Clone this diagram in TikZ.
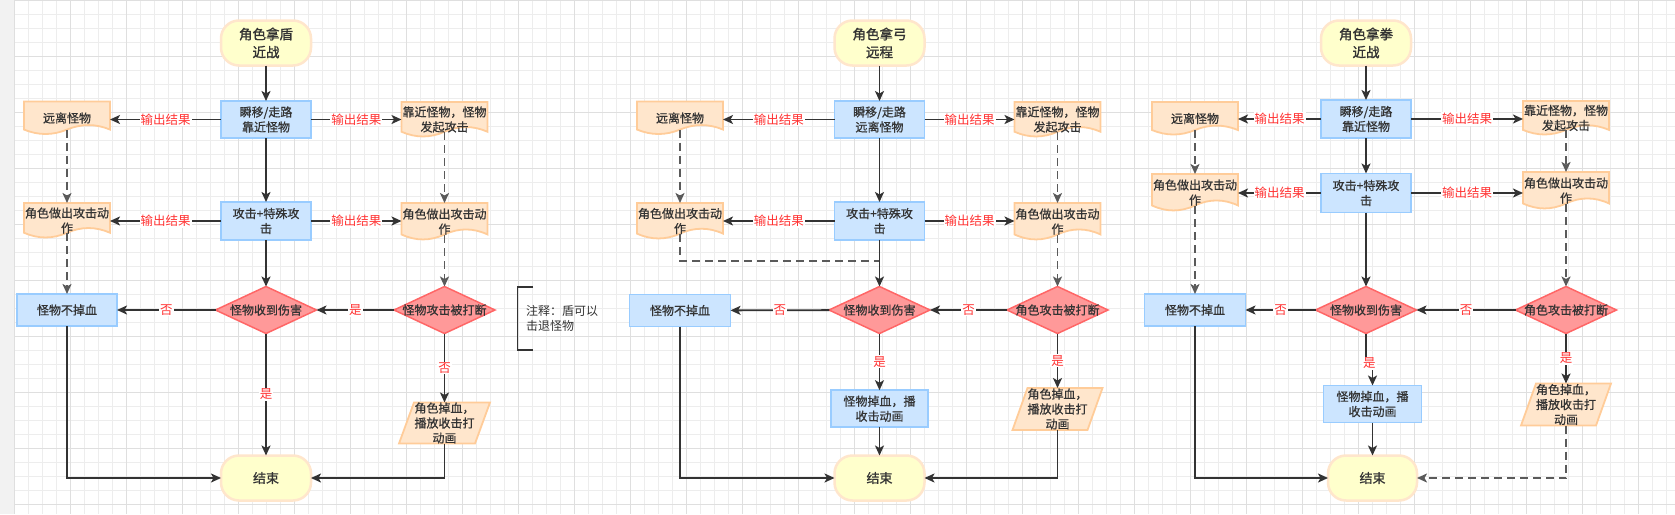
\documentclass[tikz,border=0pt]{standalone}
\usepackage{fontspec}
\setmainfont[AutoFakeBold=1.5]{Noto Sans CJK SC}
\newfontfamily\medfont[FakeBold=0.7]{Noto Sans CJK SC}
\usetikzlibrary{shapes.geometric,arrows.meta,calc}
\pgfdeclarelayer{grid}
\pgfdeclarelayer{shapes}
\pgfsetlayers{grid,shapes,main}
\definecolor{txt}{HTML}{333333}
\definecolor{termfill}{HTML}{FFFFCC}
\definecolor{termdraw}{HTML}{FFE6CC}
\definecolor{procfill}{HTML}{CCE5FF}
\definecolor{procdraw}{HTML}{99CCFF}
\definecolor{docfill}{HTML}{FFE6CC}
\definecolor{docdraw}{HTML}{FFCC99}
\definecolor{decfill}{HTML}{FF9999}
\definecolor{decdraw}{HTML}{FF6666}
\definecolor{linec}{HTML}{333333}
\definecolor{dashc}{HTML}{5A5A5A}
\definecolor{labc}{HTML}{FF3333}
\definecolor{gridminor}{HTML}{EDEDED}
\definecolor{gridmajor}{HTML}{DFDFDF}
\definecolor{stripc}{HTML}{F2F2F2}
\newcommand\docoutline[1]{%
  \begin{pgfonlayer}{shapes}
  \path[docline] let \p1=(#1.north west), \p2=(#1.south east),
    \n1={\x2-\x1}, \n2={0.3*(\y1-\y2)} in
    (\x1,\y1) -- (\x2,\y1) -- (\x2,\y2+0.5*\n2)
    .. controls (\x2-\n1/6,\y2+1.1*\n2) and (\x1+2*\n1/3,\y2+1.1*\n2) .. (\x1+0.5*\n1,\y2+0.5*\n2)
    .. controls (\x1+\n1/3,\y2-0.1*\n2) and (\x1+\n1/6,\y2-0.1*\n2) .. (\x1,\y2+0.5*\n2) -- cycle;
  \end{pgfonlayer}}
\newcommand\paraoutline[1]{%
  \begin{pgfonlayer}{shapes}
  \path[docline] let \p1=(#1.north west), \p2=(#1.south east) in
    (\x1+15pt,\y1) -- (\x2,\y1) -- (\x2-15pt,\y2) -- (\x1,\y2) -- cycle;
  \end{pgfonlayer}}
\begin{document}
\begin{tikzpicture}[x=1pt,y=-1pt,
  base/.style={inner sep=0pt, outer sep=0pt, align=center, text=txt, font=\medfont\fontsize{12}{15}\selectfont},
  term/.style={base, rectangle, rounded corners=18pt, fill=termfill, draw=termdraw, line width=2.5pt, minimum width=90pt, minimum height=45pt},
  startbox/.style={term, font=\fontsize{13.5}{18}\selectfont\bfseries},
  endbox/.style={term, font=\medfont\fontsize{13}{16}\selectfont},
  proc/.style={base, rectangle, fill=procfill, draw=procdraw, line width=1.8pt, minimum width=90pt, minimum height=37pt},
  docnode/.style={base, rectangle, minimum width=86pt},
  docline/.style={fill=docfill, draw=docdraw, line width=1.8pt},
  dec/.style={base, diamond, fill=decfill, draw=decdraw, line width=1.5pt, minimum width=101pt, minimum height=47pt},
  paranode/.style={base, rectangle, minimum width=91pt, minimum height=41pt},
  conn/.style={draw=linec, line width=1.8pt, -{Stealth[length=10pt,width=9pt,inset=2.5pt]}},
  dconn/.style={conn, draw=dashc, dash pattern=on 8pt off 5pt},
  dline/.style={draw=dashc, line width=1.8pt, dash pattern=on 8pt off 5pt},
  lab/.style={fill=white, text=labc, inner sep=1pt, font=\fontsize{12.5}{14}\selectfont},
  notetext/.style={inner sep=0pt, align=left, text=txt, font=\fontsize{12}{15}\selectfont},
]
\useasboundingbox (0,0) rectangle (1675,514);
% ---------- background grid ----------
\begin{pgfonlayer}{grid}
\fill[white] (0,0) rectangle (1675,514);
\fill[stripc] (0,0) rectangle (14.3,514);
\foreach \i in {0,...,118} \draw[gridminor, line width=1pt] ({14.3+14*\i},0) -- ({14.3+14*\i},514);
\foreach \j in {0,...,36} \draw[gridminor, line width=1pt] (14.3,{0.3+14*\j}) -- (1675,{0.3+14*\j});
\foreach \i in {0,...,29} \draw[gridmajor, line width=1pt] ({14.3+56*\i},0) -- ({14.3+56*\i},514);
\foreach \j in {0,...,9} \draw[gridmajor, line width=1pt] (14.3,{0.3+56*\j}) -- (1675,{0.3+56*\j});
\end{pgfonlayer}

% ================= Diagram 1 =================
\node[startbox] (s1) at (266,43) {角色拿盾\\近战};
\node[proc] (b11) at (266,119.5) {瞬移/走路\\靠近怪物};
\node[docnode, minimum height=33pt] (dl11) at (67,118) {远离怪物};
\node[docnode, minimum height=35pt] (dr11) at (444.5,119.5) {靠近怪物，怪物\\发起攻击};
\node[proc, minimum height=38pt] (b12) at (266,221) {攻击+特殊攻\\击};
\node[docnode, minimum height=35pt] (dl12) at (67,220.5) {角色做出攻击动\\作};
\node[docnode, minimum height=37pt] (dr12) at (444.5,221.5) {角色做出攻击动\\作};
\node[proc, minimum width=100pt, minimum height=32pt] (nb1) at (67,310) {怪物不掉血};
\node[dec] (d11) at (266,310) {\makebox[0pt]{怪物收到伤害}};
\node[dec] (d12) at (444.5,310) {\makebox[0pt]{怪物攻击被打断}};
\node[paranode] (p1) at (444.5,423) {角色掉血，\\播放收击打\\动画};
\node[endbox] (e1) at (266,478) {结束};
\node[notetext, anchor=west] (n1) at (526,318.5) {注释：盾可以\\击退怪物};
\docoutline{dl11}\docoutline{dr11}\docoutline{dl12}\docoutline{dr12}\paraoutline{p1}
\draw[linec, line width=1.5pt] (533,287) -- (517.5,287) -- (517.5,350) -- (533,350);

\draw[conn] (s1) -- (b11);
\draw[conn] (b11.west) -- node[lab] (l11) {输出结果} (b11.west -| dl11.east);
\draw[conn] (b11.east) -- node[lab] (l12) {输出结果} (b11.east -| dr11.west);
\draw[conn] (b11) -- (b12);
\draw[conn] (b12.west) -- node[lab] (l13) {输出结果} (b12.west -| dl12.east);
\draw[conn] (b12.east) -- node[lab] (l14) {输出结果} (b12.east -| dr12.west);
\draw[dconn, shorten <=-5pt] (dl11.south) -- (dl12.north);
\draw[dconn, shorten <=-5pt] (dr11.south) -- (dr12.north);
\draw[dconn, shorten <=-5pt] (dl12.south) -- (nb1.north);
\draw[dconn, shorten <=-5pt] (dr12.south) -- (d12.north);
\draw[conn] (b12) -- (d11);
\draw[conn] (d12) -- node[lab] (l15) {是} (d11);
\draw[conn] (d11) -- node[lab] (l16) {否} (nb1);
\draw[conn] (d11) -- node[lab] (l17) {是} (e1);
\draw[conn] (d12) -- node[lab] (l18) {否} (p1);
\draw[conn] (nb1.south) |- (e1.west);
\draw[conn] (p1.south) |- (e1.east);

% ================= Diagram 2 =================
\node[startbox] (s2) at (879.5,43) {角色拿弓\\远程};
\node[proc] (b21) at (879.5,119.5) {瞬移/走路\\远离怪物};
\node[docnode, minimum height=33pt] (dl21) at (680,118) {远离怪物};
\node[docnode, minimum height=35pt] (dr21) at (1057.5,119.5) {靠近怪物，怪物\\发起攻击};
\node[proc, minimum height=38pt] (b22) at (879.5,221) {攻击+特殊攻\\击};
\node[docnode, minimum height=36pt] (dl22) at (680,221) {角色做出攻击动\\作};
\node[docnode, minimum height=37pt] (dr22) at (1057.5,221.5) {角色做出攻击动\\作};
\node[proc, minimum width=101pt, minimum height=32pt] (nb2) at (680,310.5) {怪物不掉血};
\node[dec] (d21) at (879.5,310) {\makebox[0pt]{怪物收到伤害}};
\node[dec] (d22) at (1057.5,310) {\makebox[0pt]{角色攻击被打断}};
\node[proc, minimum width=97pt, minimum height=37pt] (b23) at (879.5,408.7) {怪物掉血，播\\收击动画};
\node[paranode, minimum width=90pt, minimum height=42pt] (p2) at (1057.5,409) {角色掉血，\\播放收击打\\动画};
\node[endbox] (e2) at (879.5,478) {结束};
\coordinate (j2) at (879.5,260.7);
\docoutline{dl21}\docoutline{dr21}\docoutline{dl22}\docoutline{dr22}\paraoutline{p2}

\draw[conn] (s2) -- (b21);
\draw[conn] (b21.west) -- node[lab] (l21) {输出结果} (b21.west -| dl21.east);
\draw[conn] (b21.east) -- node[lab] (l22) {输出结果} (b21.east -| dr21.west);
\draw[conn] (b21) -- (b22);
\draw[conn] (b22.west) -- node[lab] (l23) {输出结果} (b22.west -| dl22.east);
\draw[conn] (b22.east) -- node[lab] (l24) {输出结果} (b22.east -| dr22.west);
\draw[dconn, shorten <=-5pt] (dl21.south) -- (dl22.north);
\draw[dconn, shorten <=-5pt] (dr21.south) -- (dr22.north);
\draw[dline, shorten <=-5pt] (dl22.south) |- (j2);
\draw[dconn, shorten <=-5pt] (dr22.south) -- (d22.north);
\draw[conn] (b22) -- (d21);
\draw[conn] (d22) -- node[lab] (l25) {否} (d21);
\draw[conn] (d21) -- node[lab] (l26) {否} (nb2);
\draw[conn] (d21) -- node[lab] (l27) {是} (b23);
\draw[conn] (d22) -- node[lab] (l28) {是} (p2);
\draw[conn] (b23) -- (e2);
\draw[conn] (nb2.south) |- (e2.west);
\draw[conn] (p2.south) |- (e2.east);

% ================= Diagram 3 =================
\node[startbox] (s3) at (1366,43) {角色拿拳\\近战};
\node[proc, minimum height=38pt] (b31) at (1366,119) {瞬移/走路\\靠近怪物};
\node[docnode, minimum height=33pt] (dl31) at (1195,118.5) {远离怪物};
\node[docnode, minimum height=34pt] (dr31) at (1566,118) {靠近怪物，怪物\\发起攻击};
\node[proc, minimum height=39pt] (b32) at (1366,193) {攻击+特殊攻\\击};
\node[docnode, minimum height=37pt] (dl32) at (1195,192.5) {角色做出攻击动\\作};
\node[docnode, minimum height=37pt] (dr32) at (1566,190.5) {角色做出攻击动\\作};
\node[proc, minimum width=101pt, minimum height=32pt] (nb3) at (1195,310) {怪物不掉血};
\node[dec] (d31) at (1366,310) {\makebox[0pt]{怪物收到伤害}};
\node[dec] (d32) at (1566,310) {\makebox[0pt]{角色攻击被打断}};
\node[proc, minimum width=98pt, minimum height=37pt] (b33) at (1372.5,404) {怪物掉血，播\\收击动画};
\node[paranode, minimum width=90pt, minimum height=42pt] (p3) at (1566,404.5) {角色掉血，\\播放收击打\\动画};
\node[endbox, minimum width=89pt] (e3) at (1372.5,478) {结束};
\coordinate (k3a) at (1366,363);
\coordinate (k3b) at (1372.5,363);
\docoutline{dl31}\docoutline{dr31}\docoutline{dl32}\docoutline{dr32}\paraoutline{p3}

\draw[conn] (s3) -- (b31);
\draw[conn] (b31.west) -- node[lab] (l31) {输出结果} (b31.west -| dl31.east);
\draw[conn] (b31.east) -- node[lab] (l32) {输出结果} (b31.east -| dr31.west);
\draw[conn] (b31) -- (b32);
\draw[conn] (b32.west) -- node[lab] (l33) {输出结果} (b32.west -| dl32.east);
\draw[conn] (b32.east) -- node[lab] (l34) {输出结果} (b32.east -| dr32.west);
\draw[dconn, shorten <=-5pt] (dl31.south) -- (dl32.north);
\draw[dconn, shorten <=-5pt] (dr31.south) -- (dr32.north);
\draw[dconn, shorten <=-5pt] (dl32.south) -- (nb3.north);
\draw[dconn, shorten <=-5pt] (dr32.south) -- (d32.north);
\draw[conn] (b32) -- (d31);
\draw[conn] (d32) -- node[lab] (l35) {否} (d31);
\draw[conn] (d31) -- node[lab] (l36) {否} (nb3);
\draw[conn] (d31.south) -- (k3a) -- node[lab] (l37) {是} (k3b) -- (b33.north);
\draw[conn] (d32) -- node[lab] (l38) {是} (p3);
\draw[conn] (b33) -- (e3);
\draw[conn] (nb3.south) |- (e3.west);
\draw[dconn] (p3.south) |- (e3.east);
\end{tikzpicture}
\end{document}
